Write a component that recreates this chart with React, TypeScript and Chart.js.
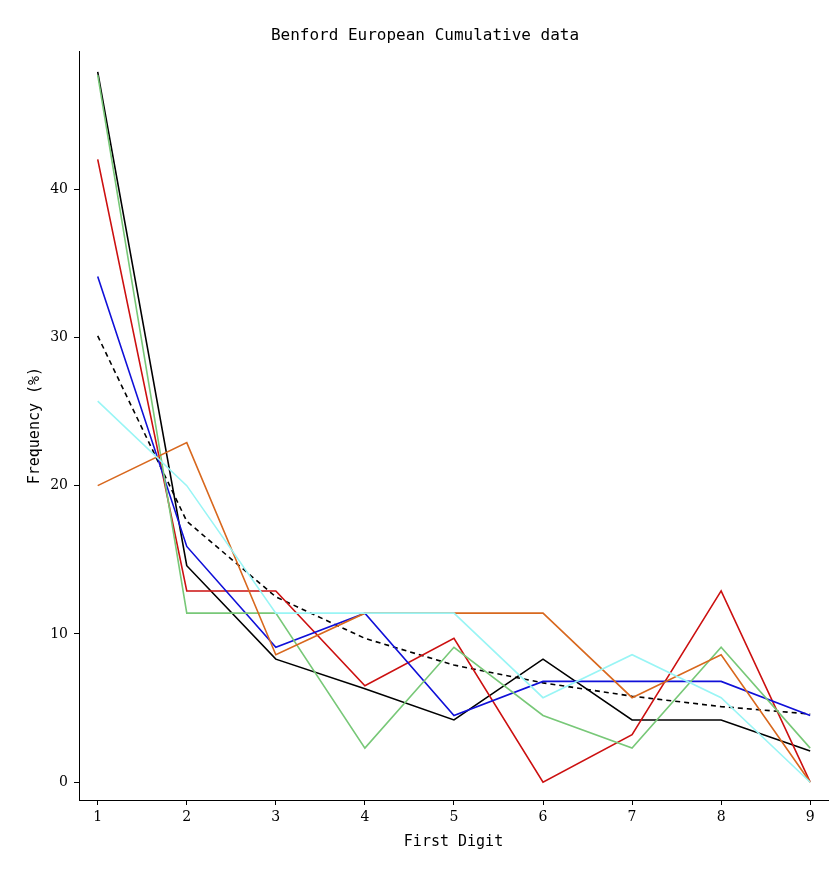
import React, { useEffect, useRef } from "react";
import { Chart, registerables } from "chart.js";
Chart.register(...registerables);

const digits = [1, 2, 3, 4, 5, 6, 7, 8, 9];
const benford = [30.1, 17.6, 12.5, 9.7, 7.9, 6.7, 5.8, 5.1, 4.6];
const cyan = [25.7, 20.0, 11.4, 11.4, 11.4, 5.7, 8.6, 5.7, 0];
const orange = [20.0, 22.9, 8.6, 11.4, 11.4, 11.4, 5.7, 8.6, 0];
const blue = [34.1, 15.9, 9.1, 11.4, 4.5, 6.8, 6.8, 6.8, 4.5];
const red = [42.0, 12.9, 12.9, 6.5, 9.7, 0, 3.2, 12.9, 0];
const green = [47.7, 11.4, 11.4, 2.3, 9.1, 4.5, 2.3, 9.1, 2.3];
const black = [47.9, 14.6, 8.3, 6.3, 4.2, 8.3, 4.2, 4.2, 2.1];
const yTicks = [0, 10, 20, 30, 40];

const pts = (v: number[]) => digits.map((d, i) => ({ x: d, y: v[i] }));

export default function App() {
  const ref = useRef<HTMLCanvasElement>(null);
  useEffect(() => {
    const font = { family: "DejaVu Serif", size: 14 };
    const ds = (data: number[], color: string, dash: number[] = []) => ({
      data: pts(data), borderColor: color, borderWidth: 1.6, borderDash: dash,
      pointRadius: 0, fill: false, tension: 0,
    });
    const chart = new Chart(ref.current!, {
      type: "line",
      data: {
        datasets: [
          ds(cyan, "#99f5f5"),
          ds(orange, "#d8681e"),
          ds(green, "#78c878"),
          ds(blue, "#1010d8"),
          ds(red, "#cc1010"),
          ds(benford, "#000000", [5, 4]),
          ds(black, "#000000"),
        ],
      },
      options: {
        animation: false, responsive: false, maintainAspectRatio: false,
        layout: { padding: { top: 26, right: 11, left: 22, bottom: 30 } },
        plugins: {
          legend: { display: false }, tooltip: { enabled: false },
          title: { display: true, text: "Benford European Cumulative data", color: "#000",
            font: { family: "DejaVu Sans Mono", size: 16, weight: "normal" }, padding: { top: 0, bottom: 6 } },
        },
        scales: {
          x: {
            type: "linear", min: 0.79, max: 9.2,
            afterBuildTicks: (s: any) => { s.ticks = digits.map((v) => ({ value: v })); },
            afterFit: (s: any) => { s.height = 55; },
            ticks: { color: "#000", font, padding: 4 },
            grid: { drawOnChartArea: false, drawTicks: true, tickLength: 5, color: "#000" },
            border: { display: true, color: "#000" },
            title: { display: true, text: "First Digit", color: "#000", font: { family: "DejaVu Sans Mono", size: 15 }, padding: { top: 0 } },
          },
          y: {
            type: "linear", min: -1.2, max: 49.3,
            afterBuildTicks: (s: any) => { s.ticks = yTicks.map((v) => ({ value: v })); },
            afterFit: (s: any) => { s.width = 57; },
            ticks: { color: "#000", font, padding: 6 },
            grid: { drawOnChartArea: false, drawTicks: true, tickLength: 5, color: "#000" },
            border: { display: true, color: "#000" },
            title: { display: true, text: "Frequency (%)", color: "#000", font: { family: "DejaVu Sans Mono", size: 15 } },
          },
        },
      } as any,
    });
    return () => chart.destroy();
  }, []);
  return (
    <div style={{ position: "fixed", left: 0, top: 0, width: 839, height: 885, background: "#fff" }}>
      <canvas ref={ref} width={839} height={885} style={{ width: 839, height: 885 }} />
    </div>
  );
}
